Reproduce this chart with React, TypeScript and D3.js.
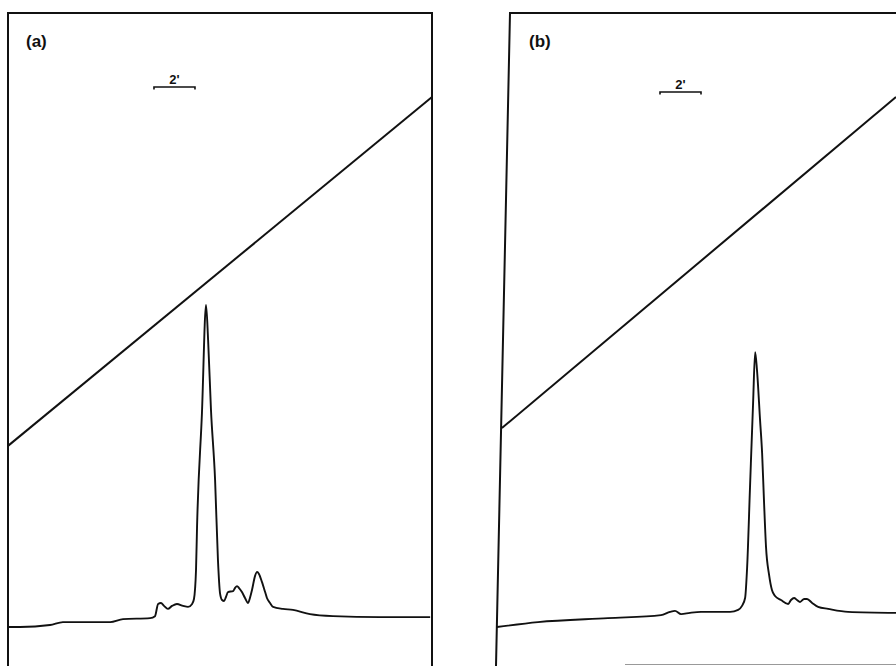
import React from "react";
import * as d3 from "d3";

// Panel (a): time (min), detector signal (arbitrary %)
const timeA = [0, 0.59, 2.05, 2.68, 4.98, 5.61, 6.93, 7.17, 7.32, 7.46, 7.61, 7.8, 8.0, 8.24, 8.54, 8.78, 8.98, 9.07, 9.17, 9.22, 9.46, 9.66, 9.76, 9.9, 10.1, 10.24, 10.34, 10.44, 10.54, 10.63, 10.73, 10.98, 11.07, 11.17, 11.27, 11.41, 11.56, 11.71, 11.8, 11.9, 12.05, 12.15, 12.24, 12.39, 12.54, 12.63, 12.78, 12.93, 13.41, 13.9, 14.73, 15.85, 18.15, 20.59];
const signalA = [0.9, 0.9, 1.5, 2.4, 2.4, 3.3, 3.6, 4.2, 7.9, 8.2, 7.3, 6.4, 7.3, 7.9, 7.3, 7.0, 7.9, 9.4, 18.2, 31.2, 65.8, 98.5, 87.9, 66.7, 45.5, 21.2, 11.2, 9.1, 8.8, 10.0, 11.5, 11.8, 12.7, 13.3, 12.7, 11.5, 9.7, 8.2, 9.7, 12.1, 16.4, 17.6, 17.0, 14.5, 11.5, 9.7, 8.2, 7.0, 6.4, 6.1, 4.8, 4.2, 3.9, 3.9];

// Panel (b)
const timeB = [0, 2.0, 5.41, 8.0, 8.44, 8.68, 8.98, 9.41, 9.95, 11.37, 11.76, 11.95, 12.1, 12.2, 12.34, 12.49, 12.59, 12.68, 12.83, 12.93, 13.02, 13.12, 13.27, 13.41, 13.56, 13.85, 14.2, 14.34, 14.49, 14.63, 14.78, 14.98, 15.12, 15.37, 15.66, 16.15, 17.12, 19.46];
const signalB = [0.9, 2.4, 3.6, 4.5, 5.5, 5.8, 4.8, 5.2, 5.5, 5.5, 6.1, 7.3, 9.7, 19.1, 43.3, 68.8, 84.2, 78.8, 63.6, 53.6, 39.4, 25.2, 16.7, 12.1, 10.3, 9.1, 7.9, 9.1, 9.7, 9.1, 8.5, 9.4, 9.4, 8.2, 7.0, 6.4, 5.5, 5.2];

// Gradient lines [time, level]
const gradientTimeA = [0, 20.68];
const gradientLevelA = [55.8, 161.5];
const gradientTimeB = [0.24, 19.46];
const gradientLevelB = [61.2, 161.5];

// Scale bars (start time, length in min)
const scaleBarA = [7.12, 2];
const scaleBarB = [7.95, 2];
const scaleBarLabel = "2'";
const panelLabels = ["(a)", "(b)"];

export default function App() {
  const W = 896;
  const H = 666;
  const xA = d3.scaleLinear().domain([0, 20.68]).range([8, 432]);
  const xB = d3.scaleLinear().domain([0, 19.46]).range([497, 896]);
  const y = d3.scaleLinear().domain([0, 100]).range([630, 300]);

  const lineA = d3
    .line<number>()
    .x((_, i) => xA(timeA[i]))
    .y((d) => y(d))
    .curve(d3.curveMonotoneX);
  const lineB = d3
    .line<number>()
    .x((_, i) => xB(timeB[i]))
    .y((d) => y(d))
    .curve(d3.curveMonotoneX);
  const gA = d3
    .line<number>()
    .x((_, i) => xA(gradientTimeA[i]))
    .y((d) => y(d));
  const gB = d3
    .line<number>()
    .x((_, i) => xB(gradientTimeB[i]))
    .y((d) => y(d));

  const stroke = "#111";
  const font = "'Liberation Sans', Arial, sans-serif";

  const bar = (x0: number, x1: number, yy: number, labelX: number, labelY: number) => (
    <g>
      <path
        d={`M${x0},${yy + 2.5}V${yy}H${x1}V${yy + 2.5}`}
        fill="none"
        stroke={stroke}
        strokeWidth={1.6}
      />
      <text
        x={labelX}
        y={labelY}
        textAnchor="middle"
        fontFamily={font}
        fontWeight="bold"
        fontSize={13}
        fill={stroke}
      >
        {scaleBarLabel}
      </text>
    </g>
  );

  const aBar0 = xA(scaleBarA[0]);
  const aBar1 = xA(scaleBarA[0] + scaleBarA[1]);
  const bBar0 = xB(scaleBarB[0]);
  const bBar1 = xB(scaleBarB[0] + scaleBarB[1]);

  return (
    <svg
      width={W}
      height={H}
      viewBox={`0 0 ${W} ${H}`}
      style={{ position: "absolute", left: 0, top: 0, background: "#fff" }}
    >
      <rect x={0} y={0} width={W} height={H} fill="#fff" />
      {/* Panel (a) frame */}
      <path d="M8,666V13H432V666" fill="none" stroke={stroke} strokeWidth={2} />
      {/* Panel (b) frame */}
      <path d="M496,666L510,13H896" fill="none" stroke={stroke} strokeWidth={2} />
      <line x1={625} y1={664.5} x2={896} y2={664.5} stroke="#999" strokeWidth={1} />

      <text x={26} y={47} fontFamily={font} fontWeight="bold" fontSize={17} fill={stroke}>
        {panelLabels[0]}
      </text>
      <text x={529} y={47} fontFamily={font} fontWeight="bold" fontSize={17} fill={stroke}>
        {panelLabels[1]}
      </text>

      {bar(aBar0, aBar1, 87, (aBar0 + aBar1) / 2, 84)}
      {bar(bBar0, bBar1, 92, (bBar0 + bBar1) / 2, 89)}

      <path d={gA(gradientLevelA) || ""} fill="none" stroke={stroke} strokeWidth={2} />
      <path d={gB(gradientLevelB) || ""} fill="none" stroke={stroke} strokeWidth={2} />

      <path
        d={lineA(signalA) || ""}
        fill="none"
        stroke={stroke}
        strokeWidth={1.9}
        strokeLinejoin="round"
      />
      <path
        d={lineB(signalB) || ""}
        fill="none"
        stroke={stroke}
        strokeWidth={1.9}
        strokeLinejoin="round"
      />
    </svg>
  );
}
